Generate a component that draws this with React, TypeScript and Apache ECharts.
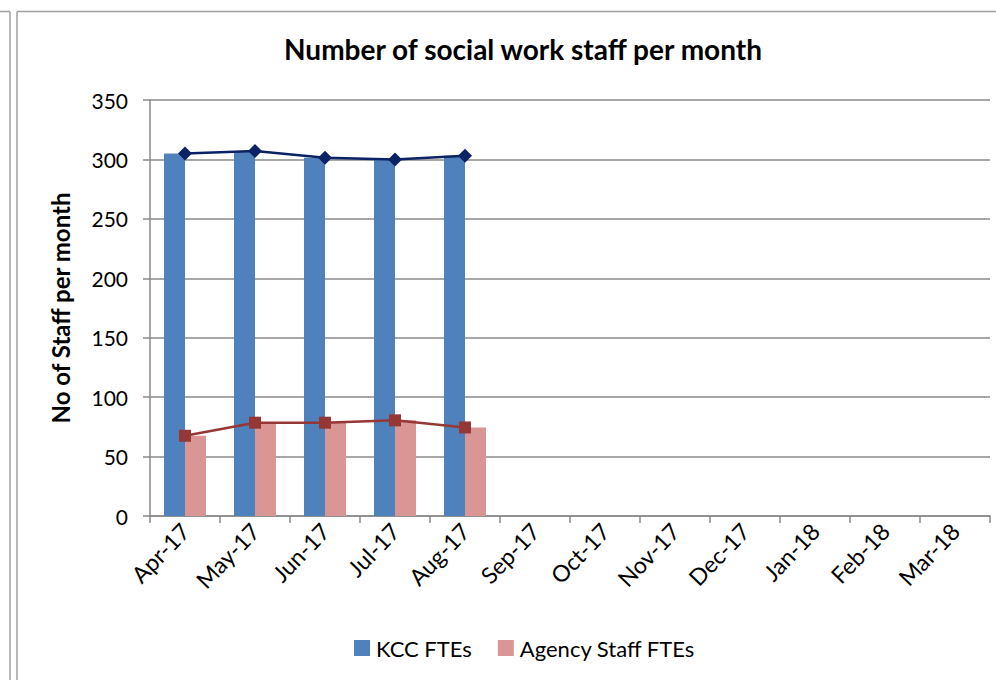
import React, { useEffect, useRef } from "react";
import * as echarts from "echarts";

const months = ["Apr-17", "May-17", "Jun-17", "Jul-17", "Aug-17", "Sep-17", "Oct-17", "Nov-17", "Dec-17", "Jan-18", "Feb-18", "Mar-18"];
const kccFtes: (number | null)[] = [305, 307, 301.5, 300, 303, null, null, null, null, null, null, null];
const agencyFtes: (number | null)[] = [67.5, 78.5, 78.5, 80.5, 74.5, null, null, null, null, null, null, null];
const yTicks = { min: 0, max: 350, interval: 50 };

const FONT = "Lato, 'Open Sans', sans-serif";

export default function App() {
  const ref = useRef<HTMLDivElement>(null);
  useEffect(() => {
    if (!ref.current) return;
    const chart = echarts.init(ref.current, undefined, { renderer: "svg" });
    const gray = "#8a8a8a";
    chart.setOption({
      animation: false,
      backgroundColor: "#ffffff",
      textStyle: { fontFamily: FONT },
      title: {
        text: "Number of social work staff per month",
        left: 518,
        top: 30,
        textAlign: "center",
        textStyle: { fontFamily: FONT, fontSize: 28, fontWeight: "bold", color: "#000" },
      },
      legend: {
        left: 349,
        top: 632,
        itemWidth: 16,
        itemHeight: 16,
        itemGap: 26,
        icon: "rect",
        textStyle: { fontFamily: FONT, fontSize: 22, color: "#000", padding: [0, 0, 0, 1] },
        data: ["KCC FTEs", "Agency Staff FTEs"],
      },
      grid: { left: 150, right: 6, top: 100, bottom: 164, containLabel: false },
      xAxis: {
        type: "category",
        data: months,
        boundaryGap: true,
        axisLine: { show: true, lineStyle: { color: gray, width: 1.5 } },
        axisTick: { show: true, length: 7, interval: 0, lineStyle: { color: gray, width: 1.5 } },
        axisLabel: { interval: 0, rotate: 46, margin: 11, fontFamily: FONT, fontSize: 23, color: "#000" },
        splitLine: { show: false },
      },
      yAxis: {
        type: "value",
        min: yTicks.min,
        max: yTicks.max,
        interval: yTicks.interval,
        name: "No of Staff per month",
        nameLocation: "middle",
        nameRotate: 90,
        nameGap: 78,
        nameTextStyle: { fontFamily: FONT, fontSize: 24, fontWeight: "bold", color: "#000" },
        axisLine: { show: true, lineStyle: { color: gray, width: 1.5 } },
        axisTick: { show: true, length: 7, lineStyle: { color: gray, width: 1.5 } },
        axisLabel: { margin: 22, fontFamily: FONT, fontSize: 21, color: "#000" },
        splitLine: { show: true, lineStyle: { color: gray, width: 1.5 } },
      },
      series: [
        {
          name: "KCC FTEs",
          type: "bar",
          data: kccFtes,
          barGap: "0%",
          barCategoryGap: "40%",
          itemStyle: { color: "#4F81BD" },
        },
        {
          name: "Agency Staff FTEs",
          type: "bar",
          data: agencyFtes,
          barGap: "0%",
          barCategoryGap: "40%",
          itemStyle: { color: "#D99694" },
        },
        {
          name: "KCC line",
          type: "line",
          data: kccFtes,
          symbol: "diamond",
          symbolSize: 14,
          lineStyle: { color: "#0B2364", width: 2.5 },
          itemStyle: { color: "#0B2364" },
          z: 5,
        },
        {
          name: "Agency line",
          type: "line",
          data: agencyFtes,
          symbol: "rect",
          symbolSize: 12,
          lineStyle: { color: "#953735", width: 2.5 },
          itemStyle: { color: "#953735" },
          z: 5,
        },
      ],
      graphic: [
        { type: "line", shape: { x1: 0, y1: 11.5, x2: 10, y2: 11.5 }, style: { stroke: "#a0a0a0", lineWidth: 1.5 } },
        { type: "line", shape: { x1: 10, y1: 11.5, x2: 10, y2: 680 }, style: { stroke: "#a0a0a0", lineWidth: 1.5 } },
        { type: "line", shape: { x1: 17, y1: 11.5, x2: 996, y2: 11.5 }, style: { stroke: "#a0a0a0", lineWidth: 1.5 } },
        { type: "line", shape: { x1: 17, y1: 11.5, x2: 17, y2: 680 }, style: { stroke: "#a0a0a0", lineWidth: 1.5 } },
      ],
    });
    return () => chart.dispose();
  }, []);
  return (
    <div
      ref={ref}
      style={{ position: "fixed", left: 0, top: 0, width: 996, height: 680 }}
    />
  );
}
